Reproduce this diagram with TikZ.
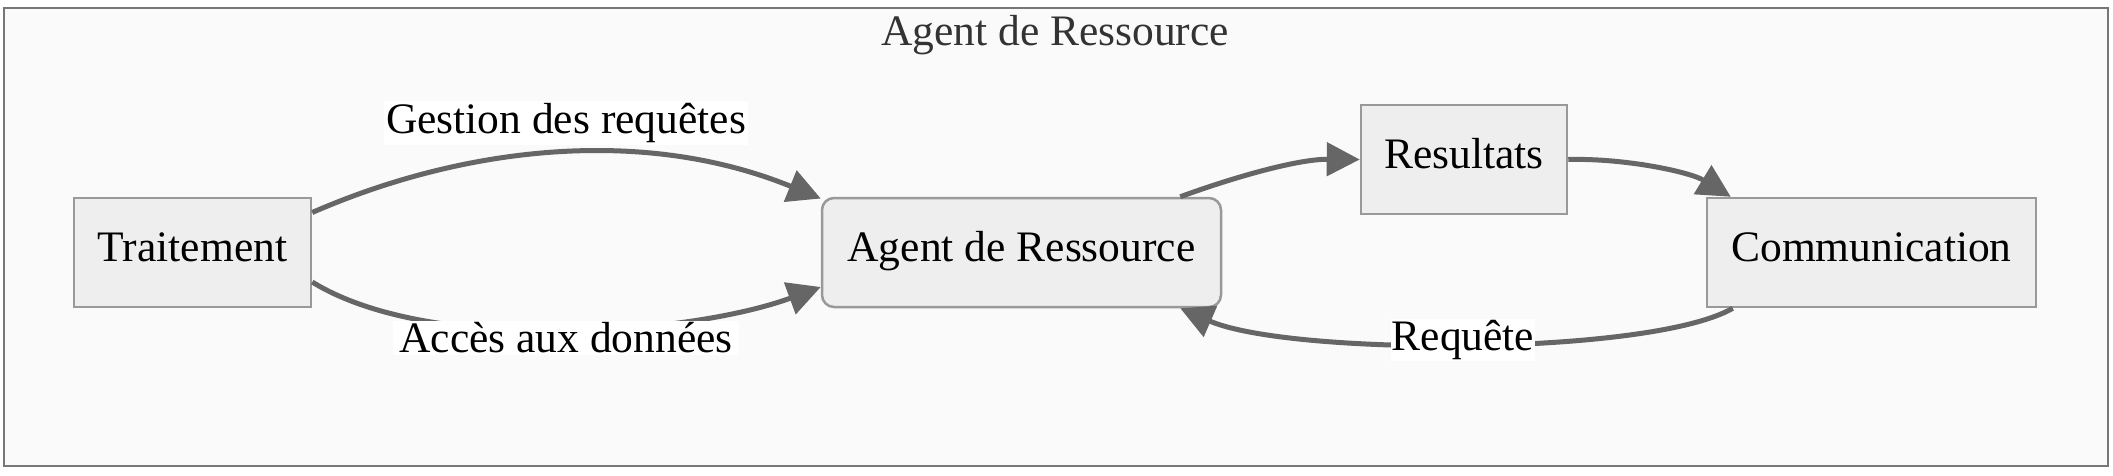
\documentclass[tikz,border=0pt]{standalone}
\usepackage{fontspec}
\setmainfont{Liberation Serif}
\usetikzlibrary{arrows.meta,calc}
\definecolor{edgegray}{HTML}{666666}
\definecolor{nodefill}{HTML}{EEEEEE}
\definecolor{nodeline}{HTML}{999999}
\definecolor{bgfill}{HTML}{FAFAFA}
\definecolor{frameline}{HTML}{777777}
\definecolor{titlecol}{HTML}{333333}
\begin{document}
\begin{tikzpicture}[x=1pt,y=-1pt,
  box/.style={draw=nodeline,fill=nodefill,line width=2.5pt,inner sep=0pt,
    text height=30pt,text depth=13pt,
    font=\fontsize{43.5}{52}\selectfont},
  conn/.style={draw=edgegray,line width=5pt,-{Triangle[length=33pt,width=33pt]}},
  lbl/.style={fill=white,inner sep=2pt,font=\fontsize{43.5}{52}\selectfont}]
\useasboundingbox (0,0) rectangle (2113,475);
\node[draw=frameline,fill=bgfill,line width=2pt,minimum width=2104pt,minimum height=458pt,inner sep=0pt] (frame) at (1056,237) {};
\node[text=titlecol,font=\fontsize{43.5}{52}\selectfont] (title) at (1055,35) {Agent de Ressource};
\node[box,minimum width=237pt,minimum height=109pt] (trait) at (192.5,252.5) {Traitement};
\node[box,rounded corners=12pt,minimum width=399pt,minimum height=109pt] (agent) at (1021.5,252.5) {Agent de Ressource};
\node[box,minimum width=206pt,minimum height=109pt] (res) at (1464,159.5) {Resultats};
\node[box,minimum width=329pt,minimum height=109pt] (comm) at (1871.5,252.5) {Communication};
% edges
\draw[conn] ($(trait.east)+(0,-40)$) .. controls (460,148) and (640,125) .. ($(agent.west)+(0,-54)$);
\node[lbl] (l1) at (566,123) {Gestion des requêtes};
\draw[conn] ($(trait.east)+(0,29.5)$) .. controls (430,355) and (690,335) .. ($(agent.west)+(0,34.5)$);
\node[lbl,inner xsep=6pt] (l2) at (566,338) {Accès aux données};
\draw[conn] ($(agent.north east)+(-42,0)$) .. controls (1240,175) and (1300,159) .. (res.west);
\draw[conn] (res.east) .. controls (1625,158) and (1690,172) .. ($(comm.north west)+(25,0)$);
\draw[conn] ($(comm.south west)+(27,0)$) .. controls (1650,356) and (1290,356) .. ($(agent.south east)+(-42,0)$);
\node[lbl,inner sep=1pt] (l3) at (1463,340) {Requête};
\end{tikzpicture}
\end{document}
